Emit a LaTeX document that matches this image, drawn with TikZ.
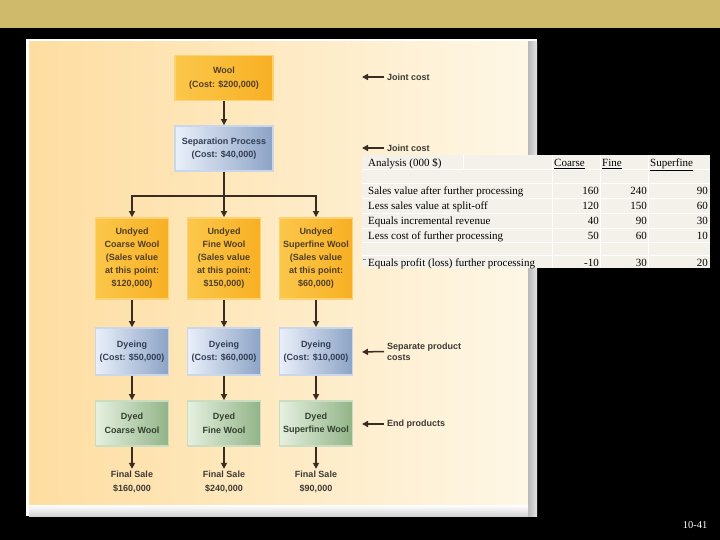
\documentclass[tikz,border=0pt]{standalone}
\usepackage{fontspec}
\setmainfont{Liberation Serif}
\newfontfamily\chartfont{Liberation Sans}
\usetikzlibrary{positioning,shapes,arrows.meta,calc}
\definecolor{goldbar}{RGB}{206,186,106}
\definecolor{panell}{RGB}{254,221,160}
\definecolor{panelr}{RGB}{254,247,230}
\definecolor{orangel}{RGB}{251,199,74}
\definecolor{oranger}{RGB}{248,176,36}
\definecolor{orangeedge}{RGB}{252,210,115}
\definecolor{orangetext}{RGB}{80,62,40}
\definecolor{bluel}{RGB}{234,240,250}
\definecolor{bluer}{RGB}{140,163,198}
\definecolor{blueedge}{RGB}{202,214,233}
\definecolor{bluetext}{RGB}{50,62,85}
\definecolor{greenl}{RGB}{230,240,224}
\definecolor{greenr}{RGB}{146,180,136}
\definecolor{greenedge}{RGB}{202,221,192}
\definecolor{greentext}{RGB}{50,65,45}
\definecolor{notetext}{RGB}{60,58,55}
\definecolor{arrowcol}{RGB}{55,45,35}
\definecolor{tablebg}{RGB}{243,241,234}

\begin{document}
\begin{tikzpicture}[x=1pt,y=-1pt,
  box/.style={draw, line width=1.8pt, minimum width=73pt, inner sep=0pt, align=center,
    font=\chartfont\bfseries\fontsize{9}{13.5}\selectfont},
  woolbox/.style={box, draw=orangeedge, left color=orangel, right color=oranger, text=orangetext},
  bluebox/.style={box, draw=blueedge, left color=bluel, right color=bluer, text=bluetext},
  greenbox/.style={box, draw=greenedge, left color=greenl, right color=greenr, text=greentext},
  note/.style={anchor=west, inner sep=0pt, align=left, text=notetext,
    font=\chartfont\bfseries\fontsize{9}{11}\selectfont},
  arr/.style={draw=arrowcol, line width=1.5pt, -{Triangle[length=6pt,width=6pt]}},
  cell/.style={inner sep=0pt, font=\fontsize{11}{13}\selectfont}]
  \useasboundingbox (0,0) rectangle (720,540);
  \fill[black] (0,0) rectangle (720,540);
  \fill[goldbar] (0,0) rectangle (720,28);
  \fill[white] (26,39) rectangle (537,516);
  \fill[left color=panell, right color=panelr] (29,42) rectangle (528,505);
  \fill[left color=gray!55, right color=gray!20] (528,42) rectangle (537,516);
  \fill[top color=white, bottom color=gray!35] (29,505) rectangle (528,516);

  \node[woolbox, minimum width=98pt, minimum height=45pt] (wool) at (224,78) {Wool\\(Cost: \$200,000)};
  \node[bluebox, minimum width=98pt, minimum height=45pt] (sep) at (224,148.5) {Separation Process\\(Cost: \$40,000)};
  \draw[arr] (wool) -- (sep);
  \coordinate (split) at (224,196);
  \draw[draw=arrowcol, line width=1.5pt] (sep) -- (split);

  \foreach \n/\x/\kind/\sv/\dc/\fs in {C/132/Coarse/120/50/160, F/224/Fine/150/60/240, S/316/Superfine/60/10/90} {
    \node[woolbox, minimum height=81pt, font=\chartfont\bfseries\fontsize{9}{13}\selectfont] (undyed\n) at (\x,258.5) {Undyed\\\kind\ Wool\\(Sales value\\at this point:\\\$\sv,000)};
    \node[bluebox, minimum height=47pt] (dye\n) at (\x,351.5) {Dyeing\\(Cost: \$\dc,000)};
    \node[greenbox, minimum height=45pt] (dyed\n) at (\x,423.5) {Dyed\\\kind\ Wool};
    \node[align=center, inner sep=2pt, text=notetext, font=\chartfont\bfseries\fontsize{9}{14}\selectfont] (sale\n) at (\x,482) {Final Sale\\\$\fs,000};
    \draw[arr] (undyed\n) -- (dye\n);
    \draw[arr] (dye\n) -- (dyed\n);
    \draw[arr] (dyed\n) -- (sale\n);
  }
  \draw[arr] (split) -| (undyedC);
  \draw[arr] (split) -- (undyedF);
  \draw[arr] (split) -| (undyedS);

  \node[note] (joint1) at (387,77) {Joint cost};
  \node[note] (joint2) at (387,148) {Joint cost};
  \node[note] (separate) at (387,351.5) {Separate product\\costs};
  \node[note] (endprod) at (387,424) {End products};
  \coordinate (joint1tip) at (362,77);
  \coordinate (joint2tip) at (362,148);
  \coordinate (separatetip) at (362,352);
  \coordinate (endprodtip) at (362,424);
  \draw[arr] ([xshift=-3pt]joint1.west) -- (joint1tip);
  \draw[arr] ([xshift=-3pt]joint2.west) -- (joint2tip);
  \draw[arr] ([xshift=-3pt]separate.west) -- (separatetip);
  \draw[arr] ([xshift=-3pt]endprod.west) -- (endprodtip);

  % incremental analysis table
  \fill[tablebg] (362,155) rectangle (710,268);
  \foreach \y in {169.5,183.5,198.5,213.5,228.5,242.5,255.5}
    \draw[white, line width=0.8pt] (362,\y) -- (710,\y);
  \foreach \x in {552,600,648}
    \draw[white, line width=0.8pt] (\x,155) -- (\x,268);
  \draw[white, line width=0.8pt] (463,155) -- (463,169.5);
  \node[cell, anchor=base west] (head) at (368,166.5) {Analysis (000 \$)};
  \node[cell, anchor=base west] (headC) at (554,166.5) {\underline{Coarse}};
  \node[cell, anchor=base west] (headF) at (602,166.5) {\underline{Fine}};
  \node[cell, anchor=base west] (headS) at (650,166.5) {\underline{Superfine}};
  \foreach \i/\y/\lab/\c/\f/\s in {1/195/Sales value after further processing/160/240/90,
      2/210/Less sales value at split-off/120/150/60, 3/225/Equals incremental revenue/40/90/30,
      4/240/Less cost of further processing/50/60/10, 5/267/Equals profit (loss) further processing/-10/30/20} {
    \node[cell, anchor=base west] (row\i) at (368,\y-0.5) {\lab};
    \node[cell, anchor=base east] (c\i) at (599,\y-0.5) {\c};
    \node[cell, anchor=base east] (f\i) at (647,\y-0.5) {\f};
    \node[cell, anchor=base east] (s\i) at (708,\y-0.5) {\s};
  }
  \fill[gray] (363,258.5) rectangle (366,259.5);

  \node[text=white, inner sep=0pt, font=\fontsize{10.5}{12}\selectfont] (pagenum) at (695,525) {10-41};
\end{tikzpicture}
\end{document}
